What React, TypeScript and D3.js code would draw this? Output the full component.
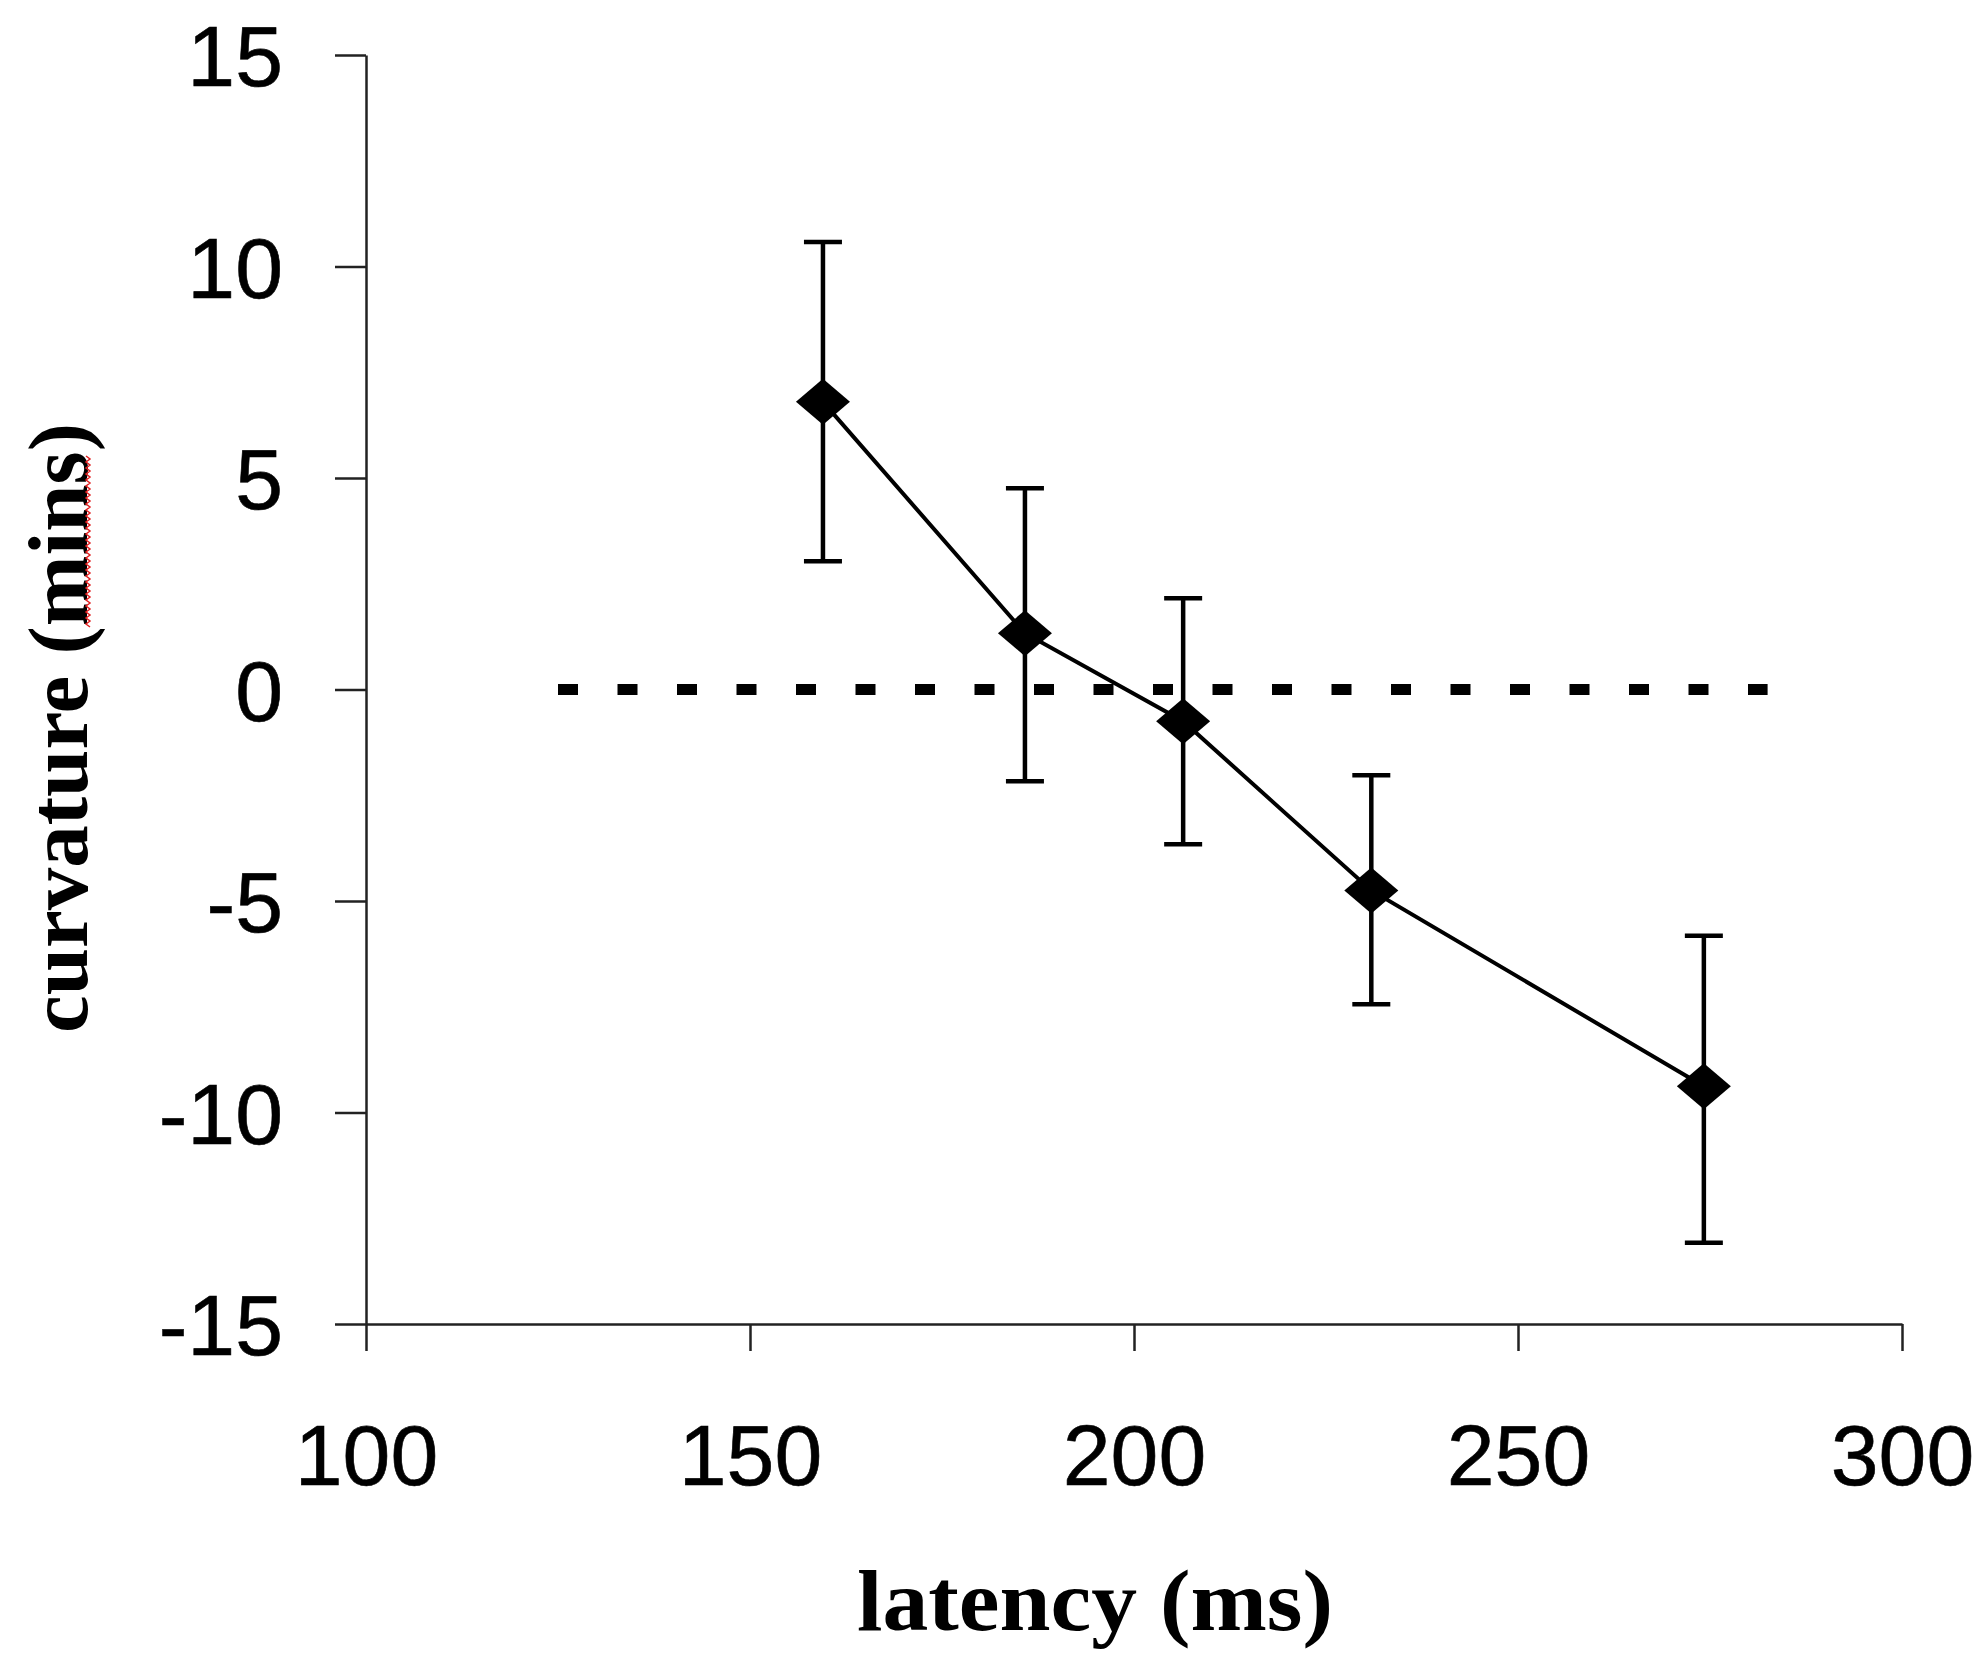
import { useEffect, useRef } from "react";
import * as d3 from "d3";

const latency = [159.5, 185.8, 206.4, 230.9, 274.2];
const curvature = [6.8, 1.33, -0.75, -4.75, -9.38];
const errUpper = [10.58, 4.76, 2.16, -2.03, -5.82];
const errLower = [3.03, -2.17, -3.66, -7.44, -13.08];

const xTicks = [100, 150, 200, 250, 300];
const yTicks = [-15, -10, -5, 0, 5, 10, 15];
const zeroLine = [125, 282.5];

const width = 1986;
const height = 1672;
const marginLeft = 366;
const marginRight = 84;
const marginTop = 55;
const marginBottom = 348;

const App = () => {
  const gx = useRef<SVGGElement | null>(null);
  const gy = useRef<SVGGElement | null>(null);

  const x = d3.scaleLinear().domain([100, 300]).range([marginLeft, width - marginRight]);
  const y = d3.scaleLinear().domain([-15, 15]).range([height - marginBottom, marginTop]);

  const points = latency.map((l, i) => ({
    x: l,
    y: curvature[i],
    hi: errUpper[i],
    lo: errLower[i],
  }));

  const line = d3
    .line<{ x: number; y: number }>()
    .x((d) => x(d.x))
    .y((d) => y(d.y));

  useEffect(() => {
    if (gx.current) {
      const g = d3.select(gx.current);
      g.call(
        d3
          .axisBottom(x)
          .tickValues(xTicks)
          .tickSize(27)
          .tickSizeOuter(0)
          .tickPadding(73)
          .tickFormat(d3.format("d"))
      );
      g.selectAll("path, line").attr("stroke", "#222").attr("stroke-width", 2.5);
      g.selectAll("text")
        .attr("font-family", "'Liberation Sans', Arial, sans-serif")
        .attr("font-size", 86)
        .attr("fill", "#000")
        .attr("stroke", "#000")
        .attr("stroke-width", 0.6);
    }
  }, [x]);

  useEffect(() => {
    if (gy.current) {
      const g = d3.select(gy.current);
      g.call(
        d3
          .axisLeft(y)
          .tickValues(yTicks)
          .tickSize(31)
          .tickSizeOuter(0)
          .tickPadding(52)
          .tickFormat(d3.format("d"))
      );
      g.selectAll("path, line").attr("stroke", "#222").attr("stroke-width", 2.5);
      g.selectAll("text")
        .attr("font-family", "'Liberation Sans', Arial, sans-serif")
        .attr("font-size", 86)
        .attr("fill", "#000")
        .attr("stroke", "#000")
        .attr("stroke-width", 0.6)
        .attr("dy", "0.36em")
        .text((d: any) => String(d).replace("−", "-"));
    }
  }, [y]);

  // spell-check squiggle under "mins"
  const squiggle = d3.range(456, 628, 3).map((v, i) => [88 + (i % 2 ? 2 : -2), v] as [number, number]);

  const hw = 27;
  const hh = 23;
  const cap = 19;

  return (
    <svg width={width} height={height} style={{ position: "absolute", left: 0, top: 0, background: "#fff" }}>
      <g ref={gx} transform={`translate(0,${height - marginBottom})`} />
      <g ref={gy} transform={`translate(${marginLeft},0)`} />

      <line
        x1={x(zeroLine[0])}
        x2={x(zeroLine[1])}
        y1={y(0)}
        y2={y(0)}
        stroke="#000"
        strokeWidth={11}
        strokeDasharray="20 39.5"
      />

      {points.map((d, i) => (
        <g key={i} stroke="#000" strokeWidth={4.5}>
          <line x1={x(d.x)} x2={x(d.x)} y1={y(d.hi)} y2={y(d.lo)} />
          <line x1={x(d.x) - cap} x2={x(d.x) + cap} y1={y(d.hi)} y2={y(d.hi)} />
          <line x1={x(d.x) - cap} x2={x(d.x) + cap} y1={y(d.lo)} y2={y(d.lo)} />
        </g>
      ))}

      <path d={line(points) ?? ""} fill="none" stroke="#000" strokeWidth={4} />

      {points.map((d, i) => (
        <path
          key={i}
          d={`M${x(d.x)},${y(d.y) - hh}L${x(d.x) + hw},${y(d.y)}L${x(d.x)},${y(d.y) + hh}L${x(d.x) - hw},${y(d.y)}Z`}
          fill="#000"
        />
      ))}

      <text
        x={1095}
        y={1630}
        textAnchor="middle"
        fontFamily="'Liberation Serif', 'Times New Roman', serif"
        fontWeight="bold"
        fontSize={86}
        textLength={476}
        lengthAdjust="spacingAndGlyphs"
      >
        latency (ms)
      </text>

      <text
        transform="translate(87,728) rotate(-90)"
        textAnchor="middle"
        fontFamily="'Liberation Serif', 'Times New Roman', serif"
        fontWeight="bold"
        fontSize={85}
      >
        curvature (mins)
      </text>

      <path d={d3.line()(squiggle) ?? ""} fill="none" stroke="#e02020" strokeWidth={1.5} />
    </svg>
  );
};

export default App;
